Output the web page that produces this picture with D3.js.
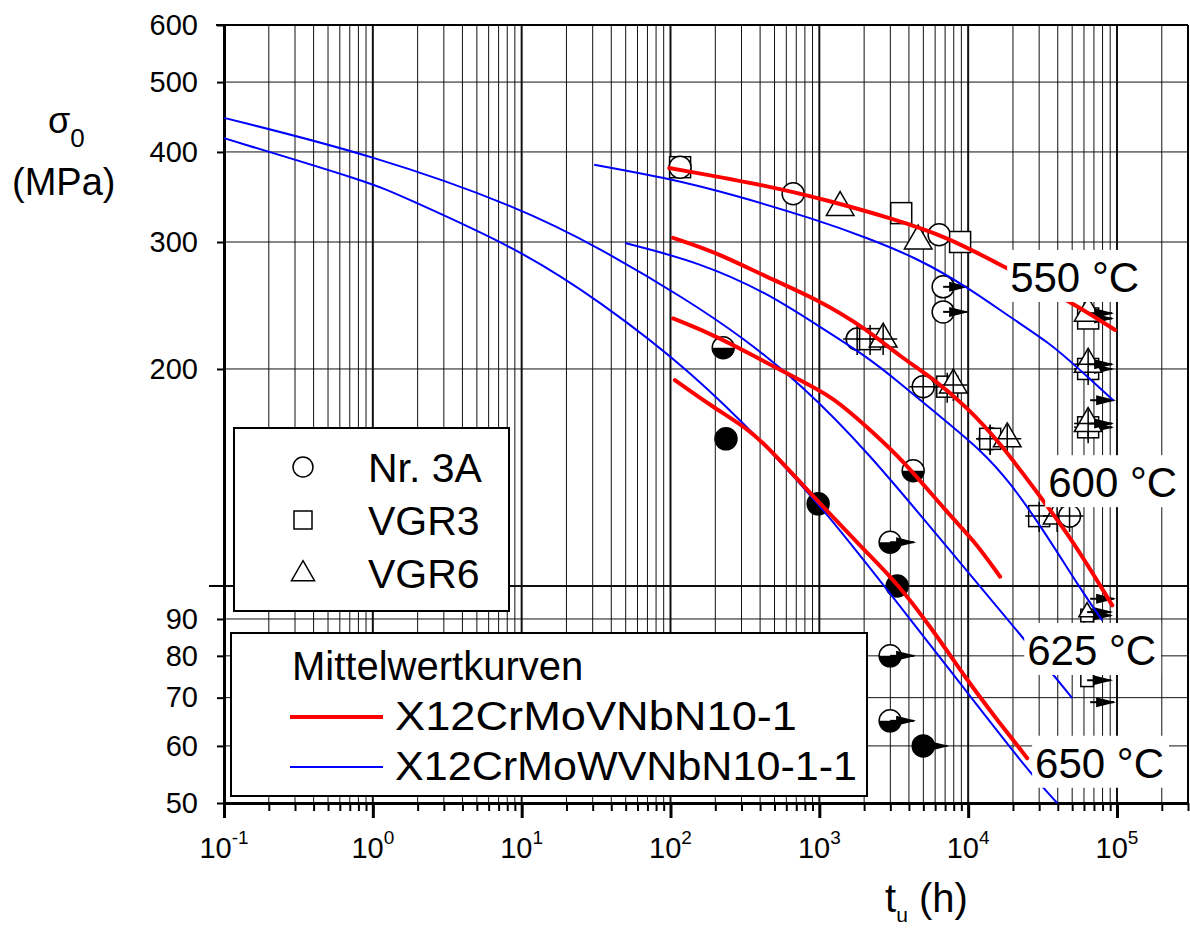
<!DOCTYPE html>
<html>
<head>
<meta charset="utf-8">
<title>Zeitstandfestigkeit</title>
<script src="https://cdnjs.cloudflare.com/ajax/libs/d3/7.8.5/d3.min.js"></script>
<style>
  body { margin: 0; background: #fff; }
  svg text { font-family: "Liberation Sans", Arial, sans-serif; fill: #000; }
</style>
</head>
<body>
<div id="vis"></div>
<script>
// axis ticks
var xMajor = [0.1, 1, 10, 100, 1000, 10000, 100000];
var xExp = ["-1", "0", "1", "2", "3", "4", "5"];
var yTicks = [50, 60, 70, 80, 90, 200, 300, 400, 500, 600];
var yGrid = [60, 70, 80, 90, 100, 200, 300, 400, 500];

// mean curves [t_u (h), sigma_0 (MPa)]  -- red: X12CrMoVNbN10-1
var red550 = [[98,380],[490,358],[1238,341],[2990,324],[7230,305],[16400,279],[47000,249],[97200,226.5]];
var red600 = [[104,304],[206,290],[446,268],[967,250],[2096,227],[3494,208],[5821,194],[9840,177],[16400,158],[30500,133],[50000,116],[92950,94]];
var red625 = [[104,235],[185,224],[343,210],[667,195],[1238,183],[2096,166],[3494,151],[7575,125],[10810,116],[16400,103]];
var red650 = [[107,193],[193,177],[343,164.5],[489,153],[828,136],[1238,124.6],[2096,111.1],[3336,100.9],[5821,86.8],[9840,74],[15670,65.2],[24940,57.7]];

// blue: X12CrMoWVNbN10-1-1
var blue550 = [[30.7,384],[95,368],[264,349],[966,322],[2096,304],[4540,285],[9840,260],[19150,236],[35560,217],[54050,201],[94300,181]];
var blue600 = [[49.5,299],[158,281],[446,255],[967,230],[2096,208],[3494,191],[5821,175],[12620,153.5],[19150,139],[30500,121.5],[59290,97.7],[79560,89.6]];
var blue625 = [[0.1,446],[1,396],[9.76,335],[33.7,294],[129,249.5],[307,221],[743,191],[2096,154],[7575,111.8],[24160,84.1],[50000,69.9]];
var blue650 = [[0.1,418],[1,362],[1.52,348],[9.76,293],[33.7,248],[136,199],[489,153],[1128,126],[3135,96.4],[9250,72.4],[27370,54.3],[39630,50]];

// test points [t_u, sigma, shape]  c = Nr. 3A, s = VGR3, t = VGR6, "-" = arrow only
var pts550 = [[116,381,"s"],[116,381,"c"],[667,350,"c"],[1380,335,"t"],[3550,329,"s"],[4615,301,"t"],[6380,307,"c"],[8830,300,"s"]];
var run550 = [[6790,260,"c"],[6790,240,"c"],[64000,235,"s"],[64000,239,"t"]];
var pts600 = [[1795,220,"c"],[2193,220,"s"],[2684,220,"t"],[4990,189,"c"],[7233,189,"s"],[7950,190,"t"],[14060,160,"c"],[14060,160,"s"],[18300,160,"t"],[30000,125,"s"],[39600,125,"t"],[48000,125,"c"]];
var run600 = [[64000,200,"s"],[64000,203,"t"],[66000,181,"-"],[64000,166,"s"],[64000,168,"t"]];
var pts625 = [[226,214,"c"],[4270,144.5,"c"]];
var run625 = [[2990,115,"c"],[2990,80,"c"],[2990,65,"c"],[66000,96,"-"],[63000,91,"s"],[63000,92,"t"]];
var pts650 = [[236,160,"c"],[982,130,"c"],[3336,100,"c"]];
var run650 = [[4990,60,"c"],[63000,74,"s"],[66000,69,"-"]];

var tempLabels = ["550 °C", "600 °C", "625 °C", "650 °C"];
var legendSeries = ["Nr. 3A", "VGR3", "VGR6"];
var legendCurves = ["X12CrMoVNbN10-1", "X12CrMoWVNbN10-1-1"];

//////////////////////////////////////////////////////////

var svg = d3.select("#vis").append("svg").attr("width", 1190).attr("height", 930);

var x = d3.scaleLog().domain([0.1, 3e5]).range([224, 1188]);
var y = d3.scaleLog().domain([50, 600]).range([803, 25]);

var xMinor = [];
xMajor.forEach(function(d) {
  for (var m = 1; m < 10; m++) { if (d * m <= 3e5) xMinor.push(d * m); }
});

// grid
var grid = svg.append("g");
grid.selectAll("line.v").data(xMinor.filter(function(d){ return d > 0.1; })).enter()
  .append("line").attr("class", "v")
  .attr("x1", function(d){ return x(d); }).attr("x2", function(d){ return x(d); })
  .attr("y1", y(600)).attr("y2", y(50))
  .attr("stroke", "#111")
  .attr("stroke-width", function(d){ return xMajor.indexOf(d) >= 0 ? 2 : 1; });
grid.selectAll("line.h").data(yGrid).enter()
  .append("line").attr("class", "h")
  .attr("x1", x(0.1)).attr("x2", x(3e5))
  .attr("y1", function(d){ return y(d); }).attr("y2", function(d){ return y(d); })
  .attr("stroke", "#111")
  .attr("stroke-width", function(d){ return d === 100 ? 2 : 1; });

// frame
svg.append("line").attr("x1", 216).attr("x2", x(3e5)).attr("y1", y(600)).attr("y2", y(600))
  .attr("stroke", "#000").attr("stroke-width", 2);
svg.append("line").attr("x1", x(3e5)).attr("x2", x(3e5)).attr("y1", y(600)).attr("y2", y(50))
  .attr("stroke", "#000").attr("stroke-width", 2);

// x axis
var gxMinor = svg.append("g").attr("transform", "translate(0," + y(50) + ")")
  .call(d3.axisBottom(x).tickValues(xMinor).tickSize(8).tickSizeOuter(0).tickFormat(""));
gxMinor.selectAll(".tick line").attr("stroke-width", 2);
gxMinor.select(".domain").attr("stroke-width", 3);
var gxMajor = svg.append("g").attr("transform", "translate(0," + y(50) + ")")
  .call(d3.axisBottom(x).tickValues(xMajor).tickSize(15).tickSizeOuter(0).tickFormat(""));
gxMajor.selectAll(".tick line").attr("stroke-width", 3);
gxMajor.select(".domain").remove();

var xl = svg.selectAll("text.xl").data(xMajor).enter().append("text")
  .attr("class", "xl")
  .attr("text-anchor", "middle")
  .attr("transform", function(d){ return "translate(" + x(d) + ",858)"; })
  .style("font-size", "29px");
xl.append("tspan").text("10");
xl.append("tspan").attr("dy", -14).style("font-size", "19px").text(function(d, i){ return xExp[i]; });

// y axis
var gy = svg.append("g").attr("transform", "translate(" + x(0.1) + ",0)")
  .call(d3.axisLeft(y).tickValues(yTicks).tickSize(7).tickSizeOuter(0).tickPadding(19).tickFormat(d3.format("d")));
gy.select(".domain").attr("stroke-width", 3);
gy.selectAll(".tick line").attr("stroke-width", 2);
gy.selectAll(".tick text").style("font-size", "29px").attr("fill", "#000");
svg.append("line").attr("x1", x(0.1) - 15).attr("x2", x(0.1)).attr("y1", y(100)).attr("y2", y(100))
  .attr("stroke", "#000").attr("stroke-width", 2);

// axis titles
var yt = svg.append("text").attr("x", 48).attr("y", 133).style("font-size", "36px");
yt.append("tspan").text("σ");
yt.append("tspan").attr("dy", 14).style("font-size", "26px").text("0");
svg.append("text").attr("x", 12).attr("y", 195).style("font-size", "38px").text("(MPa)");
var xt = svg.append("text").attr("x", 885).attr("y", 912).style("font-size", "40px");
xt.append("tspan").text("t");
xt.append("tspan").attr("dy", 10).style("font-size", "21px").text("u");
xt.append("tspan").attr("dy", -10).text(" (h)");

// markers
var mk = svg.append("g");
function marker(d, temp, small) {
  var cx = x(d[0]), cy = y(d[1]), k = small ? 0.6 : 1;
  var g = mk.append("g").attr("transform", "translate(" + cx + "," + cy + ")");
  var fill = (temp === 650 && d[2] === "c") ? "#000" : "#fff";
  if (d[2] === "c") {
    g.append("circle").attr("r", 11 * k).attr("fill", fill).attr("stroke", "#000").attr("stroke-width", 1.5);
    if (temp === 625) {
      g.append("path").attr("d", d3.arc()({innerRadius: 0, outerRadius: 11 * k, startAngle: Math.PI / 2, endAngle: Math.PI * 1.5}))
        .attr("fill", "#000");
    }
  } else if (d[2] === "s") {
    g.append("rect").attr("x", -10.5 * k).attr("y", -10.5 * k).attr("width", 21 * k).attr("height", 21 * k)
      .attr("fill", "#fff").attr("stroke", "#000").attr("stroke-width", 1.5);
  } else if (d[2] === "t") {
    g.append("path").attr("d", d3.symbol().type(d3.symbolTriangle).size(330 * k * k)())
      .attr("fill", "#fff").attr("stroke", "#000").attr("stroke-width", 1.5);
  }
  if (temp === 600 && d[2] !== "-") {
    g.append("path").attr("d", "M-14,0H14M0,-14V16").attr("stroke", "#000").attr("stroke-width", 1.5);
  }
  return g;
}
function runout(d, temp, small) {
  var g = marker(d, temp, small);
  g.append("path").attr("d", "M0,0H24").attr("stroke", "#000").attr("stroke-width", 2);
  g.append("path").attr("d", "M6,-5L26,0L6,5Z").attr("fill", "#000");
}
pts550.forEach(function(d){ marker(d, 550); });
run550.forEach(function(d){ runout(d, 550); });
pts600.forEach(function(d){ marker(d, 600); });
run600.forEach(function(d){ runout(d, 600); });
pts625.forEach(function(d){ marker(d, 625); });
run625.forEach(function(d){ runout(d, 625, d[0] > 30000); });
pts650.forEach(function(d){ marker(d, 650); });
run650.forEach(function(d){ runout(d, 650, d[0] > 30000); });

// curves
var line = d3.line().x(function(d){ return x(d[0]); }).y(function(d){ return y(d[1]); }).curve(d3.curveBasis);
svg.selectAll("path.blue").data([blue550, blue600, blue625, blue650]).enter()
  .append("path").attr("class", "blue").attr("d", line)
  .attr("fill", "none").attr("stroke", "#0000ff").attr("stroke-width", 2);
svg.selectAll("path.red").data([red550, red600, red625, red650]).enter()
  .append("path").attr("class", "red").attr("d", line)
  .attr("fill", "none").attr("stroke", "#ff0000").attr("stroke-width", 4).attr("stroke-linecap", "round");

// temperature labels with white background
var tempAt = [[19150, 255.8], [34500, 132.8], [24940, 77.7], [28180, 54.2]];
tempLabels.forEach(function(t, i) {
  var g = svg.append("g");
  var r = g.append("rect").attr("fill", "#fff");
  var tx = g.append("text").attr("x", x(tempAt[i][0])).attr("y", y(tempAt[i][1])).style("font-size", "42px").text(t);
  var b = tx.node().getBBox();
  r.attr("x", b.x - 3).attr("y", b.y - 4).attr("width", b.width + 8).attr("height", b.height + 5);
});

// legend 1
svg.append("rect").attr("x", 234).attr("y", 428).attr("width", 275).attr("height", 183)
  .attr("fill", "#fff").attr("stroke", "#000").attr("stroke-width", 2);
svg.selectAll("text.ls").data(legendSeries).enter().append("text").attr("class", "ls")
  .attr("x", 368).attr("y", function(d, i){ return 482 + i * 53; })
  .style("font-size", "41px").text(function(d){ return d; });
svg.append("circle").attr("cx", 303).attr("cy", 467).attr("r", 10)
  .attr("fill", "#fff").attr("stroke", "#000").attr("stroke-width", 1.5);
svg.append("rect").attr("x", 294).attr("y", 511).attr("width", 18).attr("height", 18)
  .attr("fill", "#fff").attr("stroke", "#000").attr("stroke-width", 1.5);
svg.append("path").attr("transform", "translate(303,574)")
  .attr("d", d3.symbol().type(d3.symbolTriangle).size(230)())
  .attr("fill", "#fff").attr("stroke", "#000").attr("stroke-width", 1.5);

// legend 2
svg.append("rect").attr("x", 231).attr("y", 633).attr("width", 636).attr("height", 163)
  .attr("fill", "#fff").attr("stroke", "#000").attr("stroke-width", 2);
svg.append("text").attr("x", 292).attr("y", 680).style("font-size", "40px").text("Mittelwertkurven");
var curveLen = [402, 462];
var lc = svg.selectAll("g.lc").data(legendCurves).enter().append("g").attr("class", "lc")
  .attr("transform", function(d, i){ return "translate(0," + (i * 50) + ")"; });
lc.append("line").attr("x1", 290).attr("x2", 383).attr("y1", 717).attr("y2", 717)
  .attr("stroke", function(d, i){ return i === 0 ? "#ff0000" : "#0000ff"; })
  .attr("stroke-width", function(d, i){ return i === 0 ? 4 : 2; });
lc.append("text").attr("x", 395).attr("y", 730).style("font-size", "40px")
  .attr("textLength", function(d, i){ return curveLen[i]; }).attr("lengthAdjust", "spacingAndGlyphs")
  .text(function(d){ return d; });
</script>
</body>
</html>
